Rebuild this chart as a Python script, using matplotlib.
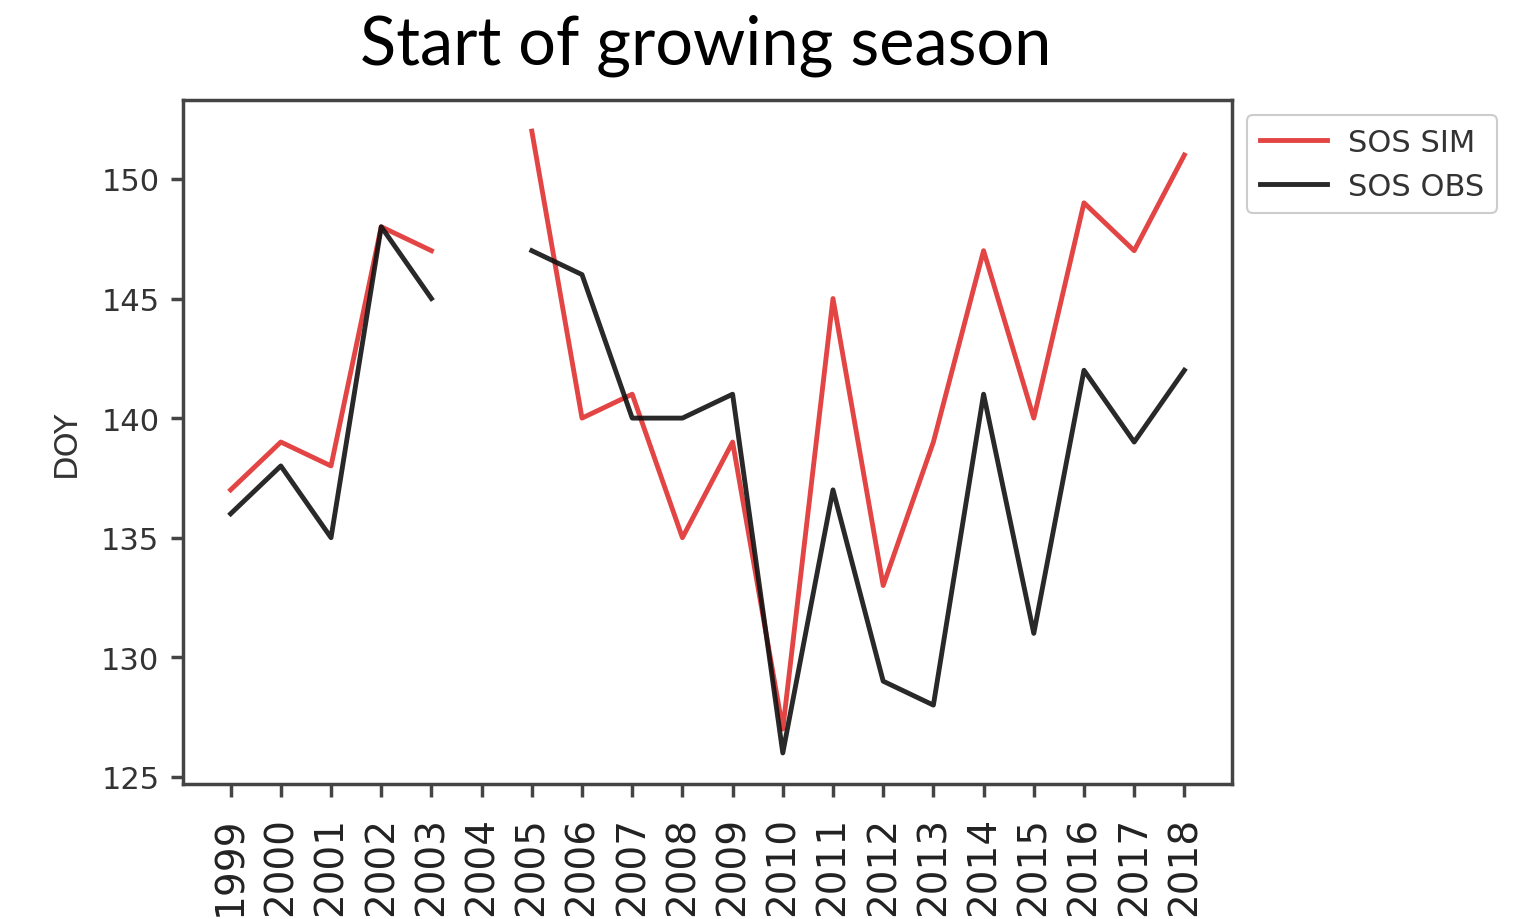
import numpy as np
import matplotlib
matplotlib.use("Agg")
import matplotlib.pyplot as plt

years = list(range(1999, 2019))
sos_sim = [137, 139, 138, 148, 147, np.nan, 152, 140, 141, 135, 139, 127, 145, 133, 139, 147, 140, 149, 147, 151]
sos_obs = [136, 138, 135, 148, 145, np.nan, 147, 146, 140, 140, 141, 126, 137, 129, 128, 141, 131, 142, 139, 142]
yticks = [125, 130, 135, 140, 145, 150]

fig = plt.figure(figsize=(15.22, 9.2), dpi=100)
ax = fig.add_axes([0.1202, 0.1467, 0.6893, 0.7435])

ax.plot(years, sos_sim, color="#e03030", lw=3.5, alpha=0.9, label="SOS SIM")
ax.plot(years, sos_obs, color="#111111", lw=3.5, alpha=0.9, label="SOS OBS")

ax.set_xticks(years)
ax.set_xticklabels([str(y) for y in years], rotation=90, fontsize=28, color="#222222")
ax.set_yticks(yticks)
ax.set_yticklabels([str(v) for v in yticks], fontsize=22, color="#333333")
ax.set_ylabel("DOY", fontsize=23, color="#333333", labelpad=14)

for s in ax.spines.values():
    s.set_linewidth(2.5)
    s.set_color("#444444")
ax.tick_params(axis="both", length=9, width=2.5, color="#444444", pad=8)
ax.tick_params(axis="x", pad=14)

leg = ax.legend(loc="upper left", bbox_to_anchor=(1.0, 1.0), fontsize=22,
                borderaxespad=0.5, handlelength=2.2, handletextpad=0.7,
                framealpha=1, edgecolor="#cccccc")
leg.get_frame().set_linewidth(1.5)
for t in leg.get_texts():
    t.set_color("#333333")

fig.text(0.4635, 0.95, "Start of growing season", ha="center", va="center",
         fontsize=48, family=["Lato", "DejaVu Sans"], color="black")

fig.savefig("out.png", dpi=100, facecolor="white")
